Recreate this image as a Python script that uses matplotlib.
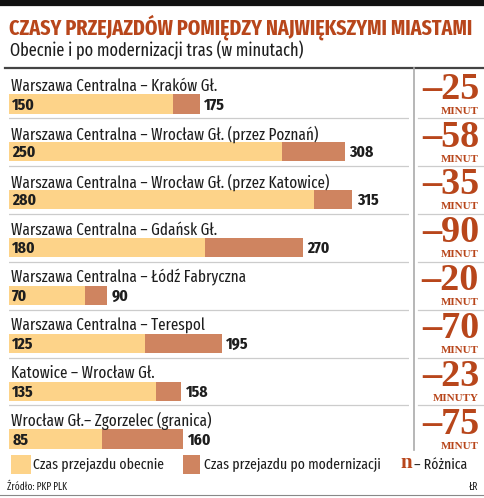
import matplotlib.pyplot as plt
from matplotlib import font_manager as fm
from matplotlib.transforms import blended_transform_factory

routes = [
    'Warszawa Centralna – Kraków Gł.',
    'Warszawa Centralna – Wrocław Gł. (przez Poznań)',
    'Warszawa Centralna – Wrocław Gł. (przez Katowice)',
    'Warszawa Centralna – Gdańsk Gł.',
    'Warszawa Centralna – Łódź Fabryczna',
    'Warszawa Centralna – Terespol',
    'Katowice – Wrocław Gł.',
    'Wrocław Gł.– Zgorzelec (granica)',
]
short_time = [150, 250, 280, 180, 70, 125, 135, 85]
long_time = [175, 308, 315, 270, 90, 195, 158, 160]
diff_text = ['–25', '–58', '–35', '–90', '–20', '–70', '–23', '–75']
diff_unit = ['MINUT', 'MINUT', 'MINUT', 'MINUT', 'MINUT', 'MINUT', 'MINUTY', 'MINUT']

LIGHT = '#fdd389'
DARK = '#cf8460'
BROWN = '#b8461b'
TXT = '#1e1e1e'

# condensed sans like the original, if one is around
have = {f.name for f in fm.fontManager.ttflist}
cond = [n for n in ['Fira Sans Extra Condensed', 'Asap Condensed', 'PT Sans Narrow',
                    'Roboto Condensed', 'Liberation Sans Narrow'] if n in have]
NARROW = cond[:1] + ['DejaVu Sans']
SERIF = ['Liberation Serif', 'DejaVu Serif']

W, H = 484, 498
fig = plt.figure(figsize=(W / 100, H / 100), dpi=100)
rend = fig.canvas.get_renderer()


def fit(texts, width):
    # scale a group of texts so the first one is `width` px wide
    w = texts[0].get_window_extent(rend).width
    for t in texts:
        t.set_fontsize(t.get_fontsize() * width / w)


# overlay in pixel coords for frame, titles, legend
bg = fig.add_axes([0, 0, 1, 1])
bg.set_xlim(0, W)
bg.set_ylim(H, 0)
bg.axis('off')

bg.plot([0, W], [2.5, 2.5], color='#111111', lw=4.5, solid_capstyle='butt')
title = bg.text(9, 27, 'CZASY PRZEJAZDÓW POMIĘDZY NAJWIĘKSZYMI MIASTAMI', color=BROWN,
                fontsize=14, fontweight='bold', family=NARROW, va='center')
fit([title], 463)
sub = bg.text(10, 50, 'Obecnie i po modernizacji tras (w minutach)', color=TXT,
              fontsize=12, family=NARROW, va='center')
fit([sub], 295)
bg.plot([5, W], [68, 68], color='#444444', lw=1.6)
bg.plot([414, 414], [68, 450], color='#aaaaaa', lw=1.2)

# bars axes: rows as index, minutes on x
row0, pitch = 104, 47.85
ax = fig.add_axes([9 / W, 0, 400 / W, 1])
ax.set_xlim(0, 400 / 1.09)
ax.set_ylim((H - row0) / pitch, -row0 / pitch)
ax.axis('off')

y = list(range(len(routes)))
ax.barh(y, long_time, height=0.40, color=DARK, lw=0)
ax.barh(y, short_time, height=0.40, color=LIGHT, lw=0)

tr_right = blended_transform_factory(bg.transData, ax.transData)
names, nums, bigs, units = [], [], [], []
for i in y:
    nums.append(ax.text(3, i + 0.02, str(short_time[i]), fontsize=12, fontweight='bold',
                        family=NARROW, va='center', color=TXT))
    nums.append(ax.text(long_time[i] + 4, i + 0.02, str(long_time[i]), fontsize=12,
                        fontweight='bold', family=NARROW, va='center', color=TXT))
    names.append(ax.text(2, i - 0.37, routes[i], fontsize=12, family=NARROW,
                         va='center', color=TXT))
    if i < len(routes) - 1:
        ax.plot([-4, 367], [i + 0.3, i + 0.3], color='#cccccc', lw=0.9)
        bg.plot([418, W], [row0 + pitch * (i + 0.3)] * 2, color='#cccccc', lw=0.9)
    bigs.append(ax.text(479, i - 0.31, diff_text[i], transform=tr_right, ha='right',
                        va='center', fontsize=30, fontweight='bold', family=SERIF,
                        color=BROWN))
    units.append(ax.text(479, i + 0.15, diff_unit[i], transform=tr_right, ha='right',
                         va='center', fontsize=8, fontweight='bold', family=SERIF,
                         color=BROWN))
fit(names, 206)
fit(nums, 23)
fit(bigs, 57)
fit(units, 38)

# legend
bg.add_patch(plt.Rectangle((11, 455), 20, 19, color=LIGHT, lw=0))
l1 = bg.text(33, 465, 'Czas przejazdu obecnie', fontsize=12, family=NARROW,
             va='center', color=TXT)
bg.add_patch(plt.Rectangle((183, 455), 17, 19, color=DARK, lw=0))
l2 = bg.text(204, 465, 'Czas przejazdu po modernizacji', fontsize=12, family=NARROW,
             va='center', color=TXT)
bg.text(400, 463, 'n', fontsize=15, fontweight='bold', family=SERIF, va='center',
        color=BROWN)
l3 = bg.text(414, 465, '– Różnica', fontsize=12, family=NARROW, va='center', color=TXT)
fit([l1, l2, l3], 131)

src = bg.text(7, 487, 'Źródło: PKP PLK', fontsize=7, family=NARROW, va='center',
              color=TXT)
sig = bg.text(478, 487, 'ŁR', fontsize=7, family=NARROW, va='center', ha='right',
              color=TXT)
fit([src, sig], 60)
bg.plot([0, W], [495, 495], color='#888888', lw=0.8)

fig.savefig('out.png', dpi=100)
